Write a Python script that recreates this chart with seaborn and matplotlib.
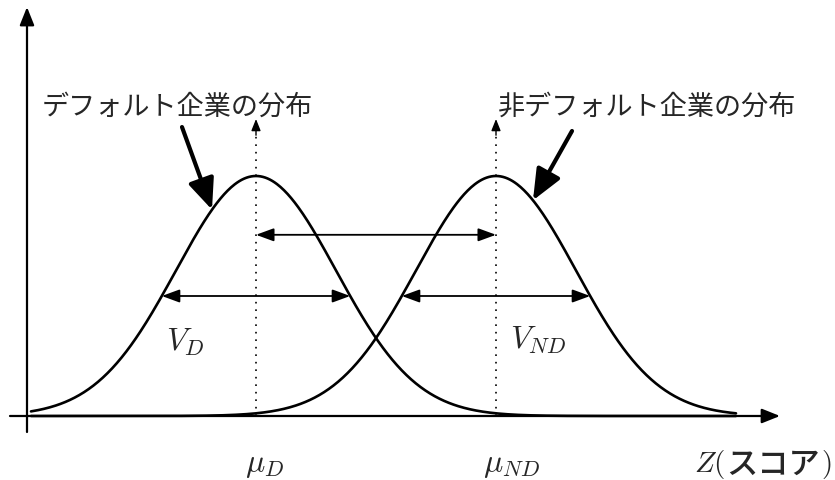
import numpy as np
import pandas as pd
import matplotlib
matplotlib.use("Agg")
import matplotlib.pyplot as plt
import seaborn as sns

# Two score distributions (units of one standard deviation, peak normalised to 1)
groups = ["D", "ND"]
means = [0.0, 3.0]
sigmas = [1.0, 1.0]
z_range = [-2.8125, 6.0]

# Text labels
label_d = "デフォルト企業の分布"
label_nd = "非デフォルト企業の分布"
mean_labels = [r"$\mu_D$", r"$\mu_{ND}$"]
width_labels = [r"$V_D$", r"$V_{ND}$"]

sns.set_theme(style="white")
plt.rcParams["mathtext.fontset"] = "cm"
cjk = ["Noto Sans CJK JP", "DejaVu Sans"]

z = np.linspace(z_range[0], z_range[1], 600)
frames = []
for g, m, s in zip(groups, means, sigmas):
    frames.append(pd.DataFrame({"z": z, "h": np.exp(-0.5 * ((z - m) / s) ** 2), "group": g}))
df = pd.concat(frames, ignore_index=True)

fig = plt.figure(figsize=(8.35, 4.81), dpi=100)
ax = fig.add_axes([0, 0, 1, 1])
ax.set_xlim(-3.2, 7.2375)
ax.set_ylim(-0.2667, 1.7375)
ax.axis("off")

# coordinate axes with arrow heads
axis_kw = dict(arrowstyle="-|>,head_length=0.55,head_width=0.22", color="black",
               lw=1.6, mutation_scale=20, shrinkA=0, shrinkB=0)
ax.annotate("", xy=(6.55, 0), xytext=(-3.075, 0), arrowprops=axis_kw)
ax.annotate("", xy=(-2.8625, 1.704), xytext=(-2.8625, -0.0667), arrowprops=axis_kw)

# density curves
sns.lineplot(data=df, x="z", y="h", hue="group", palette=["black", "black"],
             lw=1.9, legend=False, ax=ax, sort=False, estimator=None)

# dotted mean lines with small arrow heads
for m in means:
    ax.plot([m, m], [0, 1.2], color="black", lw=1.2, linestyle=(0, (1.0, 3.5)))
    ax.annotate("", xy=(m, 1.2375), xytext=(m, 1.17),
                arrowprops=dict(arrowstyle="-|>,head_length=0.5,head_width=0.2",
                                color="black", lw=1.0, mutation_scale=14,
                                shrinkA=0, shrinkB=0))

# arrow between the two means
dbl = dict(arrowstyle="<|-|>,head_length=0.6,head_width=0.22", color="black",
           lw=1.3, mutation_scale=18, shrinkA=0, shrinkB=0)
ax.annotate("", xy=(means[1], 0.755), xytext=(means[0], 0.755), arrowprops=dbl)

# width arrows at half maximum
for m, s in zip(means, sigmas):
    hw = s * np.sqrt(2 * np.log(2))
    ax.annotate("", xy=(m + hw, 0.5), xytext=(m - hw, 0.5), arrowprops=dbl)

# width labels
ax.text(-0.8875, 0.3125, width_labels[0], fontsize=23, ha="center", va="center")
ax.text(3.525, 0.32, width_labels[1], fontsize=23, ha="center", va="center")

# mean labels
ax.text(0.1125, -0.2, mean_labels[0], fontsize=23, ha="center", va="center")
ax.text(3.19, -0.2, mean_labels[1], fontsize=23, ha="center", va="center")

# x axis title
ax.text(5.475, -0.2, r"$Z($", fontsize=21, ha="left", va="center")
ax.text(5.875, -0.2, "スコア", fontsize=22.5, fontweight="medium", family=cjk,
        ha="left", va="center")
ax.text(7.06, -0.2, r"$)$", fontsize=21, ha="left", va="center")

# distribution labels with pointer arrows
ax.text(-2.675, 1.2917, label_d, fontsize=19.5, family=cjk, ha="left", va="center")
ax.text(3.025, 1.2917, label_nd, fontsize=19.5, family=cjk, ha="left", va="center")

thick = dict(arrowstyle="-|>,head_length=0.75,head_width=0.32", color="black",
             lw=3.0, mutation_scale=25, shrinkA=0, shrinkB=0)
tip_d = -0.55
tip_nd = 3.4625
ax.annotate("", xy=(tip_d, np.exp(-0.5 * (tip_d - means[0]) ** 2)),
            xytext=(-0.925, 1.204), arrowprops=thick)
ax.annotate("", xy=(tip_nd, np.exp(-0.5 * (tip_nd - means[1]) ** 2)),
            xytext=(3.95, 1.1875), arrowprops=thick)

fig.savefig("out.png", dpi=100)
